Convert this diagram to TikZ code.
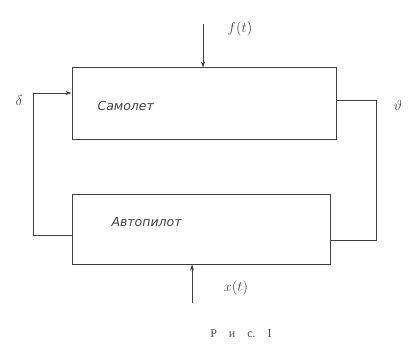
\documentclass[tikz,border=0pt]{standalone}
\usepackage{fontspec}
\setmainfont{DejaVu Sans}
\newfontfamily\capfont{Liberation Serif}
\usetikzlibrary{arrows.meta}
\begin{document}
\begin{tikzpicture}[x=1pt,y=-1pt,
  wire/.style={draw=black!75, line width=0.9pt},
  blk/.style={draw=black!75, line width=1pt, rectangle, inner sep=0pt},
  lbl/.style={font=\itshape\fontsize{12.5}{14}\selectfont, text=black!75},
  sym/.style={text=black!75, font=\Large},
  arr/.style={wire, -{Stealth[length=6pt,width=4pt]}}]
\useasboundingbox (0,0) rectangle (414,355);
% blocks
\node[blk, minimum width=264pt, minimum height=72pt] (plane) at (204,104) {};
\node[blk, minimum width=258pt, minimum height=70pt] (ap) at (201,229) {};
\node[lbl, anchor=west] (tplane) at (94,106) {Самолет};
\node[lbl, anchor=west] (tap) at (108,222) {Автопилот};
% feedback right
\coordinate (r1) at (376,100);
\coordinate (r2) at (376,240);
\draw[wire] (plane.east |- r1) -- (r1) -- (r2) -- (ap.east |- r2);
% left: autopilot -> plane
\coordinate (l1) at (33,235);
\coordinate (l2) at (33,93);
\draw[arr] (ap.west |- l1) -- (l1) -- (l2) -- (plane.west |- l2);
% disturbance input
\coordinate (ftop) at (203,24);
\draw[arr] (ftop) -- (ftop |- plane.north);
% command input
\coordinate (xbot) at (192,303);
\draw[arr] (xbot) -- (xbot |- ap.south);
% labels
\node[sym] (fl) at (240,29) {$f(t)$};
\node[sym] (xl) at (236,288) {$x(t)$};
\node[sym] (dl) at (19,101) {$\delta$};
\node[sym] (vl) at (398,106) {$\vartheta$};
\node[text=black!70, font=\capfont\large] (cap) at (241,334) {Р\quad и\quad с.\quad I};
\end{tikzpicture}
\end{document}
